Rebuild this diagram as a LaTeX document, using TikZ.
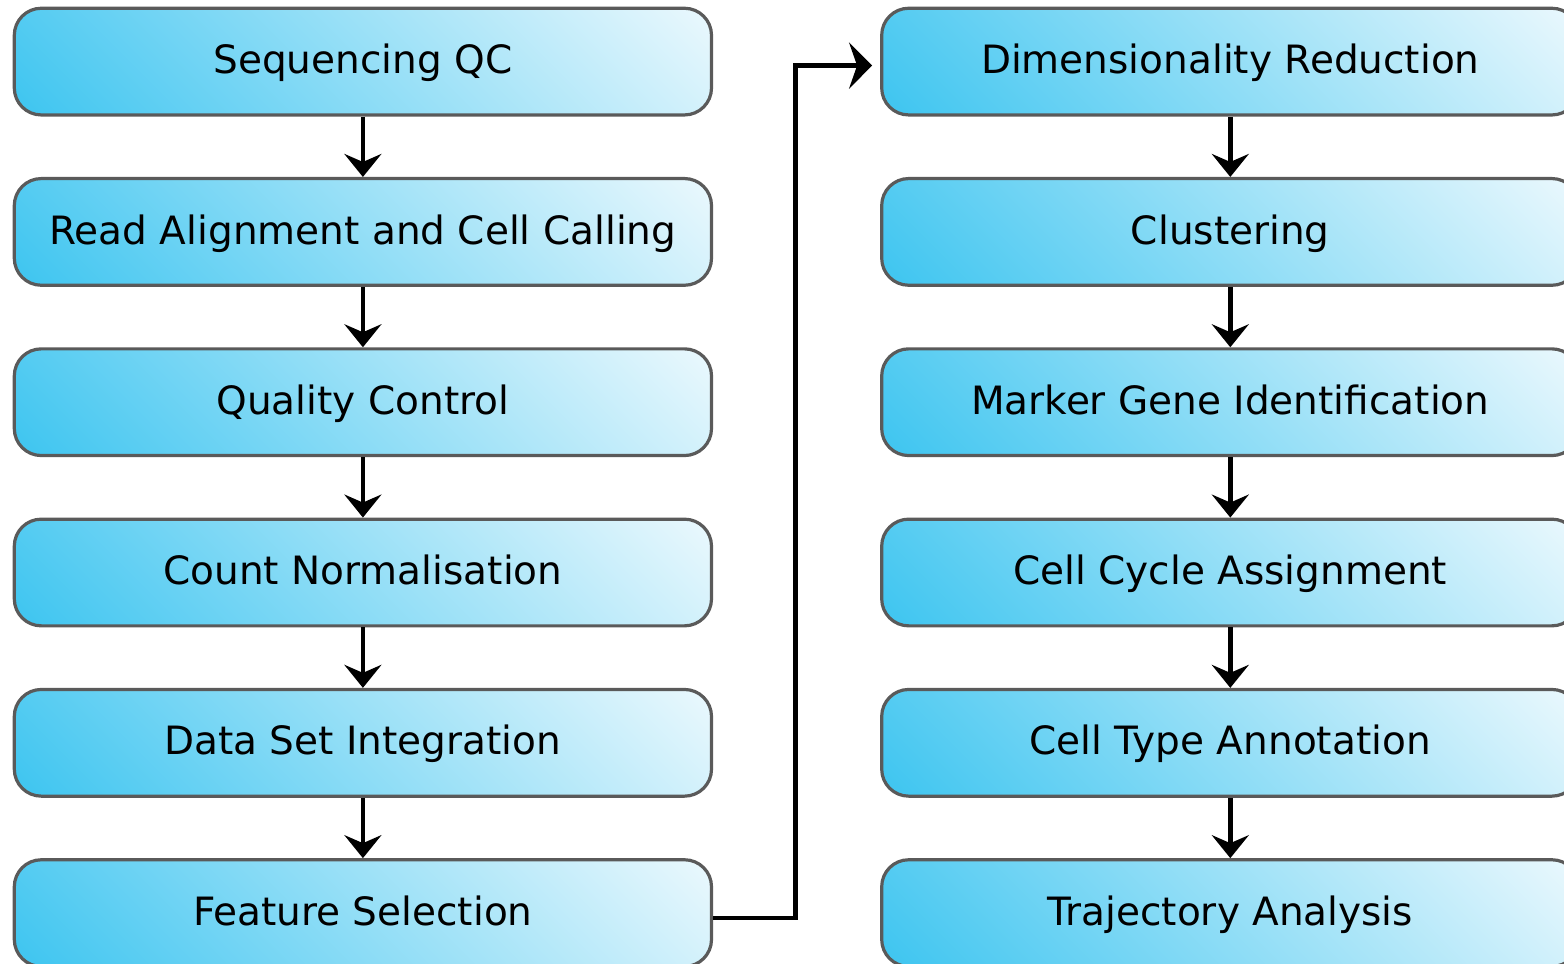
\documentclass[tikz,border=0pt]{standalone}
\usepackage{fontspec}
\setmainfont{DejaVu Sans}
\usetikzlibrary{arrows.meta}
\definecolor{stepdeep}{RGB}{62,197,240}
\definecolor{steplight}{RGB}{234,248,253}
\definecolor{stepedge}{RGB}{90,90,90}
% diagonal fill: deep blue at the lower left, almost white at the upper right
\pgfdeclarehorizontalshading{stepfill}{100bp}{color(0bp)=(stepdeep); color(30bp)=(stepdeep);
  color(70bp)=(steplight); color(100bp)=(steplight)}
\tikzset{
  stepbox/.style={draw=stepedge, line width=1.6pt, rounded corners=13.5pt,
    path picture={\shade[shading=stepfill, shading angle=45]
      ([xshift=-176pt,yshift=-176pt]path picture bounding box.center)
      rectangle ([xshift=176pt,yshift=176pt]path picture bounding box.center);},
    minimum width=348.6pt, minimum height=53.35pt, inner sep=0pt,
    text height=15.8pt, text depth=3.7pt,
    font=\fontsize{19.5pt}{23pt}\selectfont, text=black},
  flow/.style={line width=2.2pt, black,
    -{Stealth[length=11.5pt, width=18.5pt, inset=4pt]}},
  handover/.style={line width=2.2pt, black, shorten >=4pt,
    -{Stealth[length=11.5pt, width=23pt, inset=4pt]}},
  link/.style={line width=2.2pt, black, line join=miter}
}
\begin{document}
\begin{tikzpicture}
\useasboundingbox (0,0) rectangle (782pt,-482pt);
\clip (0,0) rectangle (782pt,-482pt);
% left column
\node[stepbox] (sq) at (181.45pt,-30.8pt)   {Sequencing QC};
\node[stepbox] (ra) at (181.45pt,-115.95pt) {Read Alignment and Cell Calling};
\node[stepbox] (qc) at (181.45pt,-201.1pt)  {Quality Control};
\node[stepbox] (cn) at (181.45pt,-286.25pt) {Count Normalisation};
\node[stepbox] (di) at (181.45pt,-371.4pt)  {Data Set Integration};
\node[stepbox] (fs) at (181.45pt,-456.55pt) {Feature Selection};
% right column
\node[stepbox] (dr) at (615.15pt,-30.8pt)   {Dimensionality Reduction};
\node[stepbox] (cl) at (615.15pt,-115.95pt) {Clustering};
\node[stepbox] (mg) at (615.15pt,-201.1pt)  {Marker Gene Identification};
\node[stepbox] (cc) at (615.15pt,-286.25pt) {Cell Cycle Assignment};
\node[stepbox] (ct) at (615.15pt,-371.4pt)  {Cell Type Annotation};
\node[stepbox] (ta) at (615.15pt,-456.55pt) {Trajectory Analysis};
% vertical steps
\foreach \a/\b in {sq/ra, ra/qc, qc/cn, cn/di, di/fs, dr/cl, cl/mg, mg/cc, cc/ct, ct/ta}
  \draw[flow] (\a.south) -- (\b.north);
% hand-over from the first column to the second
\coordinate (spine) at (397.7pt,0);
\coordinate (fsout) at ([yshift=-2.3pt]fs.east);
\coordinate (drin) at ([yshift=-2pt]dr.west);
\draw[link] (fsout) -| (spine |- drin);
\draw[handover] ([xshift=-1.1pt]spine |- drin) -- (drin);
\end{tikzpicture}
\end{document}
